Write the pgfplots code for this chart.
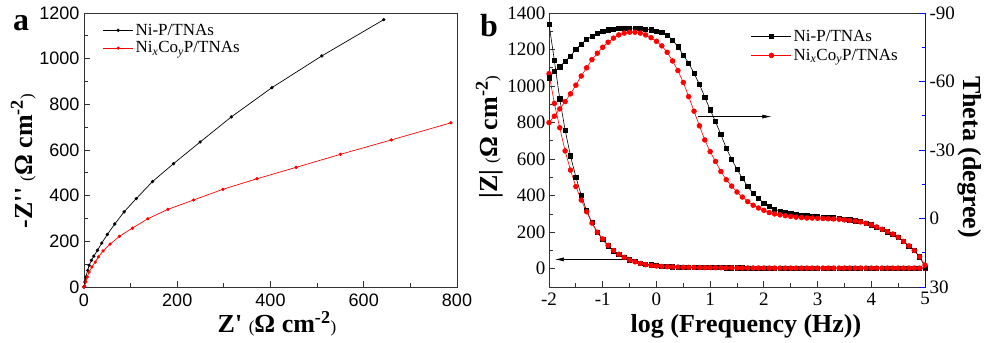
\documentclass[border=0pt]{standalone}
\usepackage{fontspec}
\setmainfont{Liberation Serif}
\newfontfamily\arial{Liberation Sans}
\usepackage{pgfplots}
\pgfplotsset{compat=1.18}
\usepackage{pgfplotstable}
\usetikzlibrary{arrows.meta}

\pgfplotstableread{
x    zb    zr    tb     tr
-2.0 1340 1068 -61.6 -42.0
-1.9 1140 905 -64.4 -44.8
-1.8 930 772 -66.4 -48.0
-1.7 760 645 -68.8 -51.2
-1.6 618 540 -71.2 -54.6
-1.5 502 450 -74.0 -58.4
-1.4 403 376 -76.4 -62.4
-1.3 318 312 -78.4 -66.0
-1.2 252 250 -79.8 -69.6
-1.1 200 200 -81.0 -72.4
-1.0 160 163 -82.0 -75.0
-0.9 125 128 -82.6 -77.2
-0.8 98 100 -83.0 -79.0
-0.7 78 79 -83.2 -80.4
-0.6 62 62 -83.4 -81.2
-0.5 49 48 -83.4 -81.6
-0.4 39 38 -83.4 -81.6
-0.3 31 29 -83.2 -81.2
-0.2 25 22 -83.0 -80.4
-0.1 21 18 -82.6 -79.2
0.0 18 15 -82.0 -77.6
0.1 15 13 -81.4 -75.6
0.2 13 11 -80.2 -72.8
0.3 11 10 -78.2 -69.0
0.4 10 9 -75.2 -64.8
0.5 9 8 -71.6 -59.6
0.6 8.5 7.5 -68.1 -53.4
0.7 8 7 -63.6 -47.0
0.8 7.5 6.5 -58.8 -40.6
0.9 7 6 -53.2 -34.4
1.0 6.5 6 -47.6 -29.3
1.1 6 5.5 -42.4 -25.0
1.2 6 5.5 -36.8 -20.6
1.3 5.5 5 -30.8 -17.0
1.4 5.5 5 -26.0 -14.2
1.5 5 4.5 -21.6 -11.6
1.6 5 4.5 -17.6 -9.4
1.7 4.5 4 -14.0 -7.4
1.8 4.5 4 -11.0 -5.8
1.9 4 4 -8.7 -4.6
2.0 4 4 -6.8 -3.6
2.1 4 3.5 -5.2 -2.6
2.2 4 3.5 -4.0 -2.0
2.3 3.5 3.5 -3.3 -1.6
2.4 3.5 3.5 -2.6 -1.2
2.5 3.5 3.5 -2.2 -0.9
2.6 3.5 3.5 -1.8 -0.6
2.7 3.5 3.5 -1.4 -0.4
2.8 3.5 3.5 -1.2 -0.2
2.9 3.5 3.5 -1.0 -0.2
3.0 3.5 3.5 -0.8 -0.1
3.1 3.5 3.5 -0.6 0.0
3.2 3.5 3.5 -0.5 0.1
3.3 3.5 3.5 -0.3 0.2
3.4 3.5 3.5 -0.1 0.3
3.5 3.5 3.5 0.2 0.6
3.6 3.5 3.5 0.6 0.8
3.7 3.5 3.5 1.0 1.1
3.8 3.5 3.5 1.4 1.5
3.9 3.5 3.5 2.0 2.1
4.0 3.5 3.5 2.8 2.8
4.1 3.5 3.5 3.7 3.7
4.2 3.5 3.5 4.7 4.7
4.3 3.5 3.5 5.8 5.8
4.4 3.5 3.5 6.8 6.8
4.5 3.5 3.5 8.2 8.2
4.6 3.5 3.5 10.0 10.0
4.7 3.5 3.5 12.0 12.0
4.8 3.5 3.5 14.0 14.0
4.9 3.5 3.5 16.8 16.8
5.0 3.5 3.5 21.2 20.4
}\bode

\newcommand{\sm}[1]{{\mdseries\fontsize{17}{17}\selectfont #1}}

\begin{document}
\begin{tikzpicture}[x=1pt,y=1pt]
\useasboundingbox (0,0) rectangle (989,343);

% ---------------- panel a ----------------
\begin{axis}[
  at={(84pt,56pt)}, anchor=south west, scale only axis,
  width=373pt, height=274pt,
  xmin=0, xmax=800, ymin=0, ymax=1200,
  xtick={0,200,...,800}, ytick={0,200,...,1200},
  minor x tick num=1, minor y tick num=1,
  tick align=inside, xtick pos=bottom, ytick pos=left,
  major tick length=6pt, minor tick length=3.5pt,
  axis line style={line width=0.9pt, black!80},
  every tick/.style={line width=0.8pt, black!80},
  /pgf/number format/assume math mode=true,
  /pgf/number format/1000 sep={},
  tick label style={font=\arial\fontsize{18}{18}\selectfont},
  xticklabel style={yshift=-3pt},
  yticklabel style={xshift=-1pt},
  legend style={draw=none, fill=none, at={(0.05,0.968)}, anchor=north west,
    font=\fontsize{17}{20}\selectfont, inner sep=0pt, row sep=1pt},
  legend cell align=left,
  legend image code/.code={\draw[mark repeat=2,mark phase=2,#1] plot coordinates {(0pt,0pt) (15pt,0pt) (30pt,0pt)};},
]
\addplot[black, line width=0.7pt, mark=*, mark size=1.3pt] coordinates {
(0,0) (1,3) (2,22) (4,44) (8,73) (11,95) (16,117) (21,135) (29,161) (38,192)
(50,230) (66,276) (86,329) (112,387) (147,462) (192,540) (249,635) (316,745)
(403,873) (510,1012) (643,1171)};
\addlegendentry{Ni-P/TNAs}
\addplot[red, line width=0.7pt, mark=*, mark size=1.3pt] coordinates {
(0,0) (1,4) (4,22) (7,44) (11,66) (17,88) (24,109) (31,132) (41,158) (56,188)
(76,222) (104,258) (137,299) (180,340) (235,381) (298,428) (371,474)
(455,524) (550,581) (659,644) (787,719)};
\addlegendentry{Ni\textsubscript{\itshape x}Co\textsubscript{\itshape y}P/TNAs}
\end{axis}

% ---------------- panel b (left axis) ----------------
\begin{axis}[
  at={(549pt,56pt)}, anchor=south west, scale only axis,
  width=376pt, height=274pt,
  xmin=-2, xmax=5, ymin=-100, ymax=1400,
  xtick={-2,...,5}, ytick={0,200,...,1400},
  minor x tick num=1, minor y tick num=1,
  tick align=inside, xtick pos=bottom, ytick pos=left,
  major tick length=6pt, minor tick length=3.5pt,
  axis line style={line width=0.9pt, black!80},
  every tick/.style={line width=0.8pt, black!80},
  /pgf/number format/assume math mode=true,
  /pgf/number format/1000 sep={},
  tick label style={font=\fontsize{19}{19}\selectfont},
  xticklabel style={yshift=-2pt},
  yticklabel style={xshift=0pt},
]
\addplot[black, line width=0.6pt, mark=square*, mark size=2.1pt] table[x=x, y=zb] {\bode};
\addplot[red, line width=0.6pt, mark=*, mark size=2.4pt] table[x=x, y=zr] {\bode};
\draw[-{Latex[length=9pt,width=4pt]}, line width=0.6pt] (axis cs:0.78,833) -- (axis cs:2.14,833);
\draw[-{Latex[length=9pt,width=4pt]}, line width=0.6pt] (axis cs:-0.43,51) -- (axis cs:-1.89,51);
\end{axis}

% ---------------- panel b (right axis) ----------------
\begin{axis}[
  at={(549pt,56pt)}, anchor=south west, scale only axis,
  width=376pt, height=274pt,
  xmin=-2, xmax=5, ymin=-90, ymax=30, y dir=reverse,
  axis x line=none, axis y line*=right,
  ytick={-90,-60,...,30}, minor y tick num=1,
  tick align=inside,
  major tick length=6pt, minor tick length=3.5pt,
  y axis line style={line width=0.9pt, blue},
  every tick/.style={line width=0.8pt, blue},
  /pgf/number format/assume math mode=true,
  tick label style={font=\fontsize{19}{19}\selectfont},
  yticklabel style={xshift=1pt},
  legend style={draw=none, fill=none, at={(0.537,0.945)}, anchor=north west,
    font=\fontsize{17}{20}\selectfont, inner sep=0pt, row sep=2pt},
  legend cell align=left,
  legend image code/.code={\draw[mark repeat=2,mark phase=2,#1] plot coordinates {(0pt,0pt) (20pt,0pt) (40pt,0pt)};},
]
\addplot[black, line width=0.6pt, mark=square*, mark size=2.1pt] table[x=x, y=tb] {\bode};
\addlegendentry{Ni-P/TNAs}
\addplot[red, line width=0.6pt, mark=*, mark size=2.4pt] table[x=x, y=tr] {\bode};
\addlegendentry{Ni\textsubscript{\itshape x}Co\textsubscript{\itshape y}P/TNAs}
\end{axis}

% ---------------- labels ----------------
\node[font=\bfseries\fontsize{32}{32}\selectfont, anchor=base] at (21,312) {a};
\node[font=\bfseries\fontsize{32}{32}\selectfont, anchor=base] at (489,306) {b};
\node[font=\bfseries\fontsize{26}{26}\selectfont, anchor=base] at (277,10)
  {Z\textquotesingle\ \sm{(}Ω cm\textsuperscript{-2}\sm{)}};
\node[font=\bfseries\fontsize{26}{26}\selectfont, anchor=base] at (746,10)
  {log (Frequency (Hz))};
\node[font=\bfseries\fontsize{26}{26}\selectfont, anchor=base, rotate=90] at (32,182)
  {-Z\textquotesingle\textquotesingle\ \sm{(}Ω cm\textsuperscript{-2}\sm{)}};
\node[font=\bfseries\fontsize{26}{26}\selectfont, anchor=base, rotate=90] at (497,206)
  {|Z|\ \sm{(}Ω cm\textsuperscript{-2}\sm{)}};
\node[font=\bfseries\fontsize{26}{26}\selectfont, anchor=base, rotate=-90] at (963,186)
  {Theta (degree)};
\end{tikzpicture}
\end{document}
